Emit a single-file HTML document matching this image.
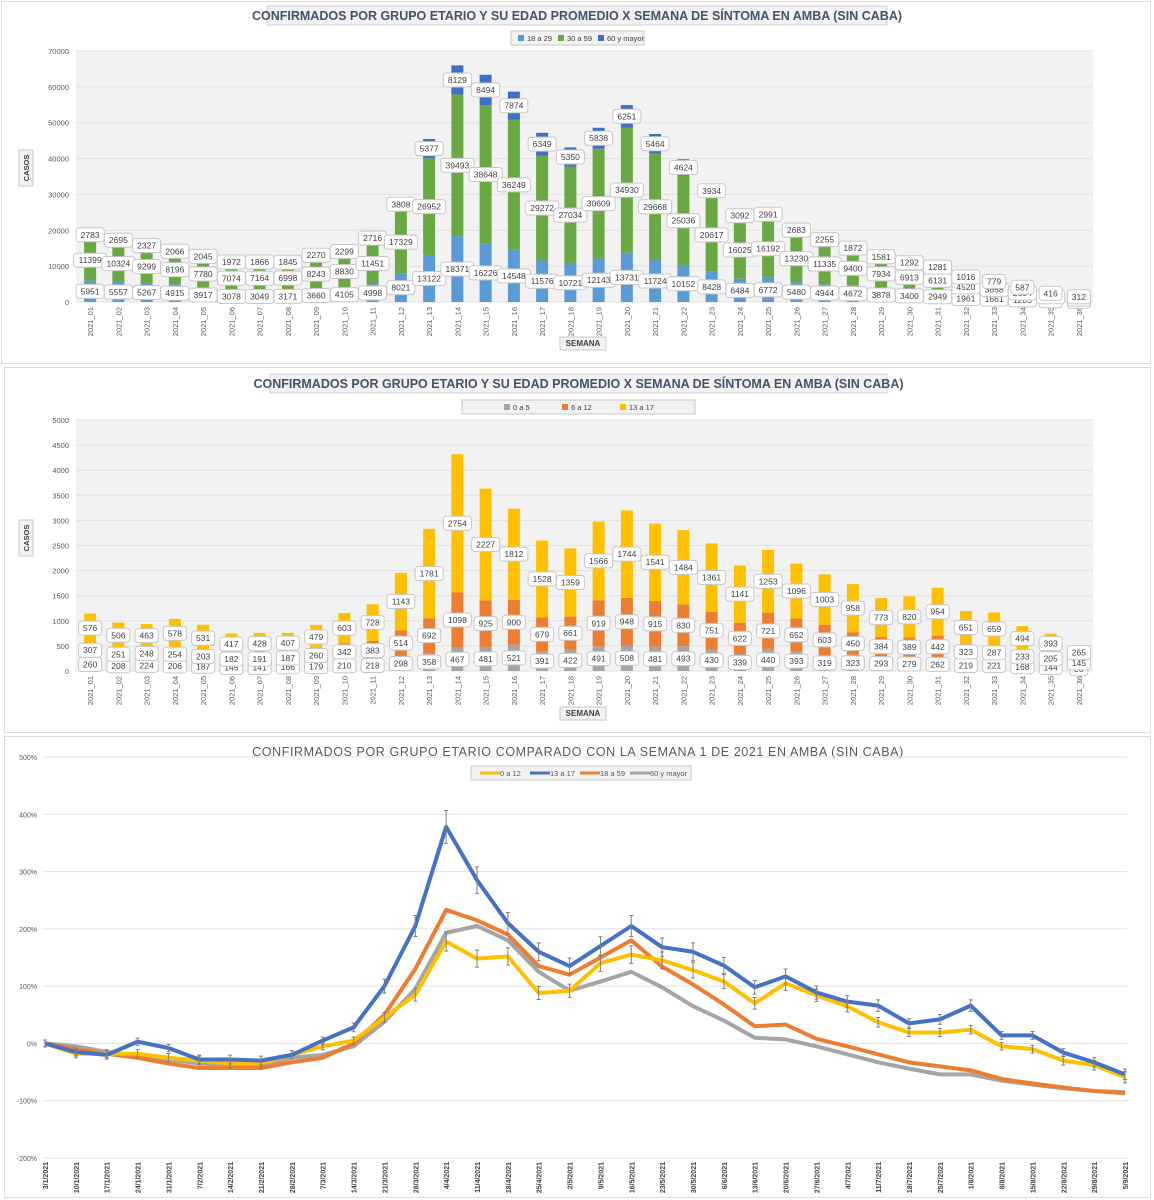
<!DOCTYPE html>
<html><head><meta charset="utf-8">
<style>
html,body{margin:0;padding:0;background:#fff;}
svg{display:block;font-family:"Liberation Sans",sans-serif;}
</style></head>
<body>
<svg id="svg" width="1154" height="1200" viewBox="0 0 1154 1200" xmlns="http://www.w3.org/2000/svg">
<rect x="0" y="0" width="1154" height="1200" fill="#fff"/>
<rect x="1.5" y="1.5" width="1149" height="362" fill="#fff" stroke="#dcdcdc"/>
<rect x="4.5" y="367.5" width="1146" height="365" fill="#fff" stroke="#dcdcdc"/>
<rect x="4.5" y="736.5" width="1146" height="461" fill="#fff" stroke="#dcdcdc"/>
<g id="c1"></g><g id="c2"></g><g id="c3"></g>
</svg>
<script>
// ---- Chart 1 data ----
const weeks = Array.from({length:36},(_,i)=>'2021_'+String(i+1).padStart(2,'0'));
const c1_18a29 = [5951,5557,5267,4915,3917,3078,3049,3171,3660,4105,4998,8021,13122,18371,16226,14548,11576,10721,12143,13731,11724,10152,8428,6484,6772,5480,4944,4672,3878,3400,2949,1961,1661,1205,700,400];
const c1_30a59 = [11399,10324,9299,8196,7780,7074,7164,6998,8243,8830,11451,17329,26952,39493,38648,36249,29272,27034,30609,34930,29668,25036,20617,16025,16192,13230,11335,9400,7934,6913,6131,4520,3658,2604,1500,900];
const c1_60 = [2783,2695,2327,2066,2045,1972,1866,1845,2270,2299,2716,3808,5377,8129,8494,7874,6349,5350,5838,6251,5464,4624,3934,3092,2991,2683,2255,1872,1581,1292,1281,1016,779,587,416,312];
const c1_ticks = [0,10000,20000,30000,40000,50000,60000,70000];
// ---- Chart 2 data ----
const c2_0a5 = [260,208,224,206,187,145,141,166,179,210,218,298,358,467,481,521,391,422,491,508,481,493,430,339,440,393,319,323,293,279,262,219,221,168,144,88];
const c2_6a12 = [307,251,248,254,203,182,191,187,260,342,383,514,692,1098,925,900,679,661,919,948,915,830,751,622,721,652,603,450,384,389,442,323,287,233,205,145];
const c2_13a17 = [576,506,463,578,531,417,428,407,479,603,728,1143,1781,2754,2227,1812,1528,1359,1566,1744,1541,1484,1361,1141,1253,1096,1003,958,773,820,954,651,659,494,393,265];
const c2_ticks = [0,500,1000,1500,2000,2500,3000,3500,4000,4500,5000];
// ---- Chart 3 data ----
const dates = ['3/1/2021','10/1/2021','17/1/2021','24/1/2021','31/1/2021','7/2/2021','14/2/2021','21/2/2021','28/2/2021','7/3/2021','14/3/2021','21/3/2021','28/3/2021','4/4/2021','11/4/2021','18/4/2021','25/4/2021','2/5/2021','9/5/2021','16/5/2021','23/5/2021','30/5/2021','6/6/2021','13/6/2021','20/6/2021','27/6/2021','4/7/2021','11/7/2021','18/7/2021','25/7/2021','1/8/2021','8/8/2021','15/8/2021','22/8/2021','29/8/2021','5/9/2021'];
const s_0a12 = [0,-18,-18,-18,-25,-30,-35,-35,-20,-5,5,45,85,178,148,152,88,92,140,155,145,128,108,70,105,84,65,37,19,19,24,-5,-10,-30,-38,-59];
const s_13a17 = [0,-15,-20,3,-8,-28,-28,-30,-20,5,28,100,205,378,285,210,160,135,170,205,168,160,136,98,117,89,73,66,35,42,66,14,14,-16,-33,-54];
const s_18a59 = [0,-10,-18,-25,-35,-43,-43,-43,-33,-25,0,50,130,233,215,190,135,120,150,180,134,103,68,30,33,8,-5,-19,-33,-40,-47,-62,-70,-77,-83,-87];
const s_60 = [0,-5,-15,-22,-28,-35,-38,-38,-25,-20,-5,38,95,193,205,180,125,92,108,125,98,65,40,10,7,-5,-19,-33,-44,-54,-54,-65,-72,-78,-83,-85];
const c3_ticks = [-200,-100,0,100,200,300,400,500];

const NS='http://www.w3.org/2000/svg';
function mk(parent,tag,attrs,text){const e=document.createElementNS(NS,tag);for(const k in attrs)e.setAttribute(k,attrs[k]);if(text!==undefined)e.textContent=text;parent.appendChild(e);return e;}

function labelBox(g,cx,cy,val){
  const s=String(val);const w=s.length*5+8;
  const r=mk(g,'rect',{x:cx-w/2,y:cy-7,width:w,height:14,rx:3,fill:'#fff',stroke:'#c8c8c8'});
  
  
  const t=mk(g,'text',{x:cx,y:cy+3,'text-anchor':'middle','font-size':8.5,fill:'#404040'},s);
  
  
}

function barChart(g,opt){
  const x0=76,x1=1093,yT=opt.yT,yB=opt.yB,max=opt.ticks[opt.ticks.length-1];
  const n=weeks.length,step=(x1-x0)/n;
  const X=i=>x0+step*(i+0.5);
  const Y=v=>yB-(v/max)*(yB-yT);
  const tb=mk(g,'rect',{x:opt.tx,y:opt.ty,width:opt.tw,height:19,fill:'#f2f2f2',stroke:'#d0d0d0'});
  
  
  const tt=mk(g,'text',{x:opt.tx+opt.tw/2,y:opt.ty+14,'text-anchor':'middle','font-size':12.5,'font-weight':'bold',fill:'#44546a'},'CONFIRMADOS POR GRUPO ETARIO Y SU EDAD PROMEDIO X SEMANA DE SÍNTOMA EN AMBA (SIN CABA)');
  
  
  const lb=mk(g,'rect',{x:opt.lx,y:opt.ly,width:opt.lw,height:14,fill:'#f2f2f2',stroke:'#c8c8c8'});
  
  
  let lx=opt.lx+opt.lpad;
  opt.series.forEach(s=>{
    const sw=mk(g,'rect',{x:lx,y:opt.ly+4,width:6,height:6,fill:s.color});
    
    
    const lt=mk(g,'text',{x:lx+9,y:opt.ly+10,'font-size':7.5,fill:'#404040'},s.name);
    
    
    lx+=opt.lgap;
  });
  const pb=mk(g,'rect',{x:x0,y:yT,width:x1-x0,height:yB-yT,fill:'#f2f2f2'});
  
  
  opt.ticks.forEach(t=>{
    const gl=mk(g,'line',{x1:x0,x2:x1,y1:Y(t),y2:Y(t),stroke:'#e2e2e2','stroke-width':1});
    
    
    const tl=mk(g,'text',{x:69,y:Y(t)+3,'text-anchor':'end','font-size':7.5,fill:'#595959'},t);
    
    
  });
  const bw=12;
  weeks.forEach((w,i)=>{
    let acc=0;
    opt.series.forEach((s,k)=>{
      const v=s.data[i];
      const r=mk(g,'rect',{x:X(i)-bw/2,y:Y(acc+v),width:bw,height:Y(acc)-Y(acc+v),fill:s.color});
      
      
      acc+=v;
    });
    const xl=mk(g,'text',{x:0,y:0,'text-anchor':'end','font-size':7.5,fill:'#595959',transform:`translate(${X(i)+3},${yB+5}) rotate(-90)`},w);
    
    
  });
  weeks.forEach((w,i)=>{
    let acc=0;
    opt.series.forEach(s=>{
      const v=s.data[i];
      labelBox(g,X(i),Y(acc+v/2),v);
      acc+=v;
    });
  });
  const ab=mk(g,'rect',{x:560,y:opt.xtY-9,width:46,height:13,fill:'#f2f2f2',stroke:'#c8c8c8'});
  
  
  const at=mk(g,'text',{x:583,y:opt.xtY,'text-anchor':'middle','font-size':8,'font-weight':'bold',fill:'#404040'},'SEMANA');
  
  
  const yb=mk(g,'rect',{x:19,y:opt.ytY-18,width:14,height:36,fill:'#f2f2f2',stroke:'#c8c8c8'});
  
  
  const yt=mk(g,'text',{x:0,y:0,'text-anchor':'middle','font-size':7.5,'font-weight':'bold',fill:'#404040',transform:`translate(29,${opt.ytY}) rotate(-90)`},'CASOS');
  
  
}

barChart(document.getElementById('c1'),{yT:51,yB:302,ticks:c1_ticks,tx:267,ty:6,tw:620,lx:511,ly:31,lw:133,lpad:7,lgap:40,xtY:346,ytY:168,
  series:[{key:'18a29',name:'18 a 29',color:'#5b9bd5',data:c1_18a29},{key:'30a59',name:'30 a 59',color:'#6aa843',data:c1_30a59},{key:'60ymayor',name:'60 y mayor',color:'#3f6fc6',data:c1_60}]});
barChart(document.getElementById('c2'),{yT:420,yB:671,ticks:c2_ticks,tx:270,ty:374,tw:617,lx:462,ly:400,lw:233,lpad:42,lgap:58,xtY:716,ytY:538,
  series:[{key:'0a5',name:'0 a 5',color:'#a5a5a5',data:c2_0a5},{key:'6a12',name:'6 a 12',color:'#ed7d31',data:c2_6a12},{key:'13a17',name:'13 a 17',color:'#ffc000',data:c2_13a17}]});

(function(){
  const g=document.getElementById('c3');
  const x0=45,x1=1125,yT=757,yB=1158,min=-200,max=500;
  const X=i=>x0+(x1-x0)*i/(dates.length-1);
  const Y=v=>yB-(v-min)/(max-min)*(yB-yT);
  const t=mk(g,'text',{x:578,y:756,'text-anchor':'middle','font-size':12.5,fill:'#595959','letter-spacing':'0.6'},'CONFIRMADOS POR GRUPO ETARIO COMPARADO CON LA SEMANA 1 DE 2021 EN AMBA (SIN CABA)');
  
  
  c3_ticks.forEach(v=>{
    const gl=mk(g,'line',{x1:43,x2:1127,y1:Y(v),y2:Y(v),stroke:'#e0e0e0','stroke-width':1});
    
    
    const tl=mk(g,'text',{x:37,y:Y(v)+3,'text-anchor':'end','font-size':7,fill:'#595959'},v+'%');
    
    
  });
  dates.forEach((d,i)=>{
    const xl=mk(g,'text',{x:0,y:0,'text-anchor':'end','font-size':7,'font-weight':'bold',fill:'#404040',transform:`translate(${X(i)+3},${yB+4}) rotate(-90)`},d);
    
    
  });
  const series=[
    {key:'60-y-mayor',name:'60 y mayor',color:'#a5a5a5',data:s_60,err:false},
    {key:'18-a-59',name:'18 a 59',color:'#ed7d31',data:s_18a59,err:false},
    {key:'0-a-12',name:'0 a 12',color:'#ffc000',data:s_0a12,err:true},
    {key:'13-a-17',name:'13 a 17',color:'#4472c4',data:s_13a17,err:true}];
  series.forEach(s=>{
    const p=mk(g,'polyline',{points:s.data.map((v,i)=>X(i)+','+Y(v)).join(' '),fill:'none',stroke:s.color,'stroke-width':4,'stroke-linejoin':'round'});
    
    
  });
  series.forEach(s=>{
    if(!s.err)return;
    s.data.forEach((v,i)=>{
      const e=6+0.06*Math.abs(v);
      const eb=mk(g,'path',{d:`M${X(i)},${Y(v+e)}V${Y(v-e)}M${X(i)-2},${Y(v+e)}h4M${X(i)-2},${Y(v-e)}h4`,stroke:'#7f7f7f','stroke-width':1,fill:'none'});
      
      
    });
  });
  const lb=mk(g,'rect',{x:471,y:766,width:220,height:14,fill:'#f2f2f2',stroke:'#c8c8c8'});
  
  
  const order=[series[2],series[3],series[1],series[0]];
  const lx=[480,530,580,630];
  order.forEach((s,k)=>{
    const ln=mk(g,'line',{x1:lx[k],x2:lx[k]+20,y1:773,y2:773,stroke:s.color,'stroke-width':3});
    
    
    const lt=mk(g,'text',{x:lx[k]+20,y:776,'font-size':7.5,fill:'#595959'},s.name);
    
    
  });
})();
</script>
</body></html>
